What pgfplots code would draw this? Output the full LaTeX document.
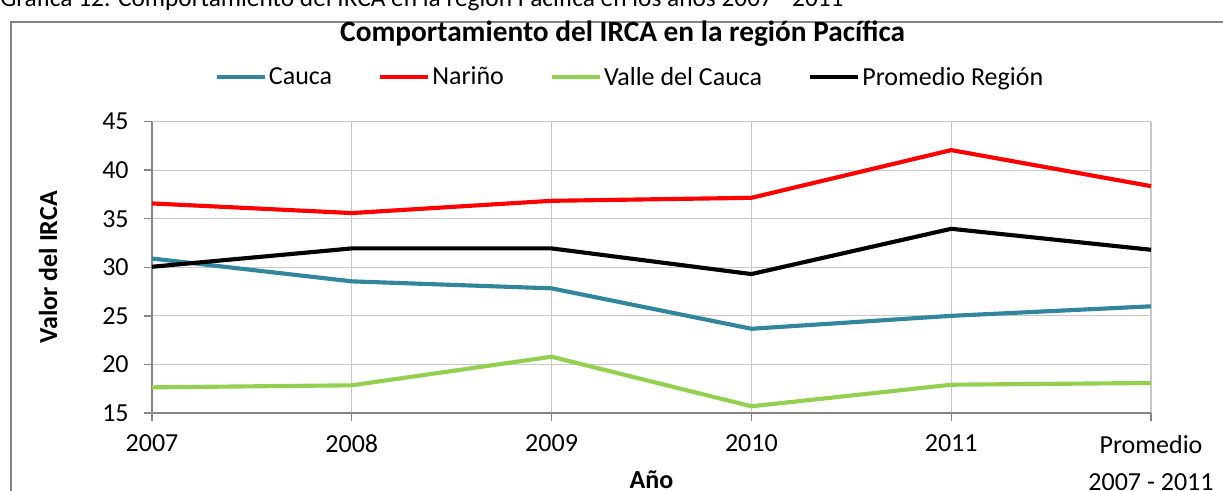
\documentclass[border=0pt]{standalone}
\usepackage{pgfplots}
\pgfplotsset{compat=1.18}
\usepackage{fontspec}
\setmainfont{Carlito}
\definecolor{cauca}{HTML}{31859C}
\definecolor{narino}{HTML}{FF0000}
\definecolor{valle}{HTML}{92D050}
\definecolor{axgray}{HTML}{868686}
\definecolor{gridgray}{HTML}{C8C8C8}
\begin{document}
\begin{tikzpicture}
\useasboundingbox (0pt,0pt) rectangle (917.25pt,-368.25pt);
\node[anchor=base west,inner sep=0pt,font=\fontsize{19}{21}\selectfont] at (0pt,-5.25pt) {Gráfica 12. Comportamiento del IRCA en la región Pacífica en los años 2007 - 2011};
\draw[axgray,line width=1pt] (8.25pt,-16.5pt) rectangle (940pt,-400pt);
\node[font=\fontsize{22}{26}\selectfont\bfseries] at (467pt,-25.5pt) {Comportamiento del IRCA en la región Pacífica};
\begin{axis}[
  at={(114pt,-309.75pt)}, anchor=south west,
  scale only axis, width=749.25pt, height=218.6pt,
  xmin=0, xmax=5, ymin=15, ymax=45,
  xtick={0,1,2,3,4,5},
  xticklabels={2007,2008,2009,2010,2011,{Promedio\\2007 - 2011}},
  ytick={15,20,25,30,35,40,45},
  /pgf/number format/assume math mode=true,
  axis lines*=left,
  axis line style={axgray,line width=1pt},
  major tick style={axgray,line width=1pt},
  tick align=outside, major tick length=6pt,
  grid=major, major grid style={gridgray,line width=0.8pt},
  ticklabel style={font=\fontsize{19.5}{27.75}\selectfont},
  xticklabel style={align=center,yshift=-7pt},
  yticklabel style={xshift=-8pt},
  every axis x label/.style={at={(axis description cs:0.5,0)},anchor=center,yshift=-50.25pt},
  every axis y label/.style={at={(axis description cs:0,0.5)},rotate=90,anchor=center,yshift=78pt},
  xlabel={\fontsize{19.5}{21}\selectfont\bfseries Año},
  ylabel={\fontsize{19.5}{21}\selectfont\bfseries Valor del IRCA},
  legend columns=4,
  legend style={at={(0.4785,1.1527)},anchor=center,draw=none,fill=none,
    font=\fontsize{19.5}{23}\selectfont,
    /tikz/every even column/.append style={column sep=33pt},
    nodes={inner sep=1.5pt}},
  legend image code/.code={\draw[#1] (0pt,0pt) -- (36pt,0pt);},
  every axis plot/.append style={line width=3.1pt},
  clip=false,
]
\addplot[cauca] coordinates {(0,30.9) (1,28.55) (2,27.83) (3,23.67) (4,25.0) (5,25.98)};
\addlegendentry{Cauca}
\addplot[narino] coordinates {(0,36.57) (1,35.58) (2,36.84) (3,37.15) (4,42.06) (5,38.35)};
\addlegendentry{Nariño}
\addplot[valle] coordinates {(0,17.64) (1,17.85) (2,20.79) (3,15.69) (4,17.91) (5,18.09)};
\addlegendentry{Valle del Cauca}
\addplot[black] coordinates {(0,30.05) (1,31.94) (2,31.94) (3,29.3) (4,33.96) (5,31.8)};
\addlegendentry{Promedio Región}
\end{axis}
\end{tikzpicture}
\end{document}
